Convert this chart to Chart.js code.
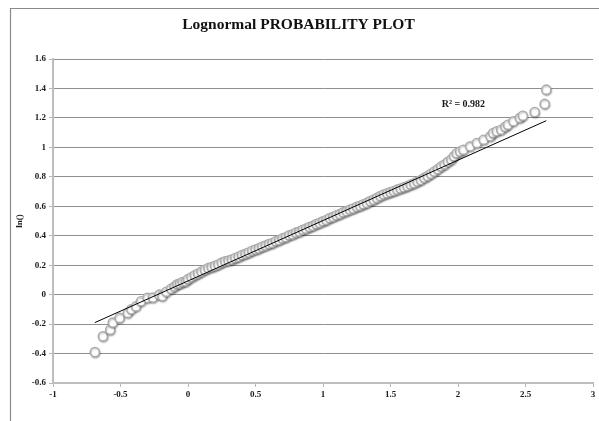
<!DOCTYPE html>
<html>
<head>
<meta charset="utf-8">
<script src="https://cdn.jsdelivr.net/npm/chart.js@4/dist/chart.umd.min.js"></script>
<style>
  html, body { margin: 0; padding: 0; background: #fff; }
  canvas { display: block; }
</style>
</head>
<body>
<canvas id="c" width="599" height="421"></canvas>
<script>
// Theoretical quantile (x) against ln of the observed value (y)
const xVals = [
  -0.69, -0.63, -0.576, -0.557, -0.507, -0.446, -0.42, -0.385, -0.348, -0.30,
  -0.26, -0.213, -0.19, -0.16, -0.125, -0.10, -0.08, -0.06, -0.04, -0.017,
  0.00, 0.025, 0.05, 0.075, 0.10, 0.125, 0.15, 0.175, 0.20, 0.225,
  0.25, 0.275, 0.30, 0.325, 0.35, 0.375, 0.40, 0.425, 0.45, 0.475,
  0.50, 0.525, 0.55, 0.575, 0.60, 0.625, 0.65, 0.675, 0.70, 0.725,
  0.75, 0.775, 0.80, 0.825, 0.85, 0.875, 0.90, 0.925, 0.95, 0.975,
  1.00, 1.025, 1.05, 1.075, 1.10, 1.125, 1.15, 1.175, 1.20, 1.225,
  1.25, 1.275, 1.30, 1.325, 1.35, 1.375, 1.40, 1.425, 1.45, 1.475,
  1.50, 1.525, 1.55, 1.575, 1.60, 1.625, 1.65, 1.675, 1.70, 1.725,
  1.75, 1.775, 1.80, 1.825, 1.85, 1.875, 1.90, 1.925, 1.95,
  1.97, 1.99, 2.015, 2.04, 2.09, 2.14, 2.19, 2.24, 2.26, 2.287,
  2.32, 2.35, 2.37, 2.41, 2.458, 2.48, 2.568, 2.642, 2.654
];
const yVals = [
  -0.39, -0.283, -0.238, -0.19, -0.158, -0.124, -0.10, -0.08, -0.045, -0.022,
  -0.02, 0.0, -0.01, 0.02, 0.04, 0.055, 0.07, 0.075, 0.085, 0.09,
  0.105, 0.118, 0.132, 0.144, 0.156, 0.169, 0.18, 0.187, 0.195, 0.205,
  0.218, 0.226, 0.231, 0.238, 0.249, 0.257, 0.269, 0.277, 0.286, 0.298,
  0.306, 0.314, 0.325, 0.333, 0.343, 0.351, 0.363, 0.37, 0.382, 0.39,
  0.403, 0.409, 0.421, 0.428, 0.44, 0.448, 0.459, 0.467, 0.479, 0.487,
  0.498, 0.507, 0.52, 0.528, 0.539, 0.547, 0.559, 0.567, 0.577, 0.585,
  0.596, 0.604, 0.614, 0.623, 0.635, 0.645, 0.657, 0.669, 0.68, 0.688,
  0.696, 0.704, 0.713, 0.721, 0.729, 0.737, 0.748, 0.756, 0.768, 0.778,
  0.793, 0.806, 0.821, 0.836, 0.852, 0.87, 0.884, 0.902, 0.918,
  0.94, 0.96, 0.972, 0.984, 1.007, 1.03, 1.052, 1.075, 1.098, 1.109,
  1.12, 1.14, 1.154, 1.177, 1.20, 1.215, 1.24, 1.295, 1.392
];

// Linear trend fitted to the points, and its reported fit
const trendSlope = 0.41;
const trendIntercept = 0.093;
const trendRange = [-0.69, 2.654];
const rSquaredText = 'R\u00B2 = 0.982';

// Axis ticks
const xTicks = [-1, -0.5, 0, 0.5, 1, 1.5, 2, 2.5, 3];
const xTickLabels = ['-1', '-0.5', '0', '0.5', '1', '1.5', '2', '2.5', '3'];
const yTicks = [-0.6, -0.4, -0.2, 0, 0.2, 0.4, 0.6, 0.8, 1, 1.2, 1.4, 1.6];
const yTickLabels = ['-0.6', '-0.4', '-0.2', '0', '0.2', '0.4', '0.6', '0.8', '1', '1.2', '1.4', '1.6'];

const SERIF = '"Liberation Serif", "DejaVu Serif", serif';

const points = xVals.map((x, i) => ({ x: x, y: yVals[i] }));
const trendPoints = trendRange.map(x => ({ x: x, y: trendIntercept + trendSlope * x }));

// White page with the outer chart frame (runs off to the right and bottom)
const framePlugin = {
  id: 'frame',
  beforeDraw(chart) {
    const ctx = chart.ctx;
    ctx.save();
    ctx.fillStyle = '#ffffff';
    ctx.fillRect(0, 0, chart.width, chart.height);
    ctx.strokeStyle = '#8a8a8a';
    ctx.lineWidth = 1.2;
    ctx.beginPath();
    ctx.moveTo(10.5, chart.height + 5);
    ctx.lineTo(10.5, 8.5);
    ctx.lineTo(chart.width + 5, 8.5);
    ctx.stroke();
    ctx.restore();
  }
};

// Soft drop shadow under the markers
const shadowPlugin = {
  id: 'markerShadow',
  beforeDatasetDraw(chart, args) {
    if (args.index !== 1) return;
    const ctx = chart.ctx;
    ctx.save();
    ctx.shadowColor = 'rgba(0,0,0,0.28)';
    ctx.shadowBlur = 1.5;
    ctx.shadowOffsetX = 0.6;
    ctx.shadowOffsetY = 1.2;
  },
  afterDatasetDraw(chart, args) {
    if (args.index !== 1) return;
    chart.ctx.restore();
  }
};

// R² annotation next to the trend line
const rSquaredPlugin = {
  id: 'rSquared',
  afterDatasetsDraw(chart) {
    const ctx = chart.ctx;
    const xs = chart.scales.x, ys = chart.scales.y;
    ctx.save();
    ctx.font = 'bold 10px ' + SERIF;
    ctx.fillStyle = '#1a1a1a';
    ctx.textAlign = 'center';
    ctx.textBaseline = 'middle';
    ctx.fillText(rSquaredText, xs.getPixelForValue(2.04), ys.getPixelForValue(1.29));
    ctx.restore();
  }
};

new Chart(document.getElementById('c'), {
  type: 'scatter',
  data: {
    datasets: [
      {
        type: 'line',
        label: 'Linear',
        data: trendPoints,
        borderColor: '#000000',
        borderWidth: 1,
        pointRadius: 0,
        fill: false,
        order: 0
      },
      {
        label: 'ln()',
        data: points,
        pointStyle: 'circle',
        pointRadius: 4.6,
        pointBorderWidth: 1.4,
        borderColor: '#aaaaaa',
        backgroundColor: '#ffffff',
        order: 1
      }
    ]
  },
  options: {
    responsive: false,
    animation: false,
    events: [],
    layout: { padding: { left: 0, right: 2, top: 0, bottom: 0 } },
    plugins: {
      legend: { display: false },
      tooltip: { enabled: false },
      title: {
        display: true,
        text: 'Lognormal PROBABILITY PLOT',
        color: '#111111',
        font: { family: SERIF, size: 15.5, weight: 'bold', lineHeight: 1.2 },
        padding: { top: 16, bottom: 24.4 }
      }
    },
    scales: {
      x: {
        type: 'linear',
        min: -1,
        max: 3,
        afterBuildTicks(scale) { scale.ticks = xTicks.map(v => ({ value: v })); },
        afterFit(scale) { scale.height = 38; scale.paddingLeft = 0; scale.paddingRight = 0; },
        ticks: {
          autoSkip: false,
          maxRotation: 0,
          padding: 2,
          color: '#1a1a1a',
          font: { family: SERIF, size: 9, weight: 'bold' },
          callback: (v, i) => xTickLabels[i]
        },
        grid: {
          drawOnChartArea: false,
          drawTicks: true,
          tickLength: 4,
          tickColor: '#b8b8b8',
          tickWidth: 1
        },
        border: { color: '#bdbdbd', width: 2 }
      },
      y: {
        type: 'linear',
        min: -0.6,
        max: 1.6,
        afterBuildTicks(scale) { scale.ticks = yTicks.map(v => ({ value: v })); },
        afterFit(scale) { scale.width = 53; scale.paddingTop = 0; scale.paddingBottom = 0; },
        ticks: {
          autoSkip: false,
          padding: 3,
          color: '#1a1a1a',
          font: { family: SERIF, size: 9, weight: 'bold' },
          callback: (v, i) => yTickLabels[i]
        },
        grid: {
          color: '#8f8f8f',
          lineWidth: 1,
          drawTicks: true,
          tickLength: 4,
          tickColor: '#b8b8b8',
          tickWidth: 1
        },
        border: { color: '#bdbdbd', width: 2 },
        title: {
          display: true,
          text: 'ln()',
          color: '#1a1a1a',
          font: { family: SERIF, size: 9, weight: 'bold' },
          padding: { top: 14, bottom: 0 }
        }
      }
    }
  },
  plugins: [framePlugin, shadowPlugin, rSquaredPlugin]
});
</script>
</body>
</html>
